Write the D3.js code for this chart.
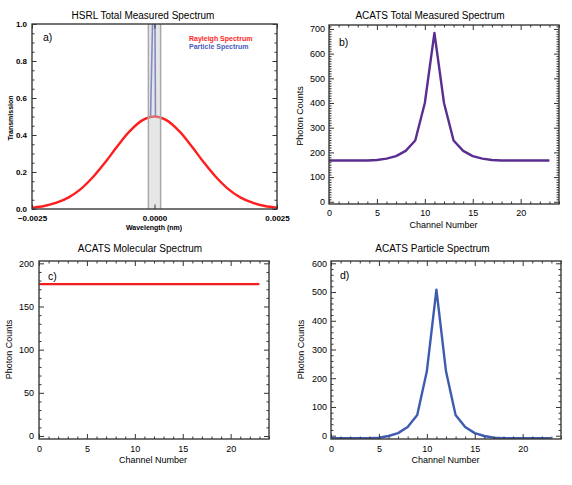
<!DOCTYPE html>
<html><head><meta charset="utf-8">
<script src="https://cdn.jsdelivr.net/npm/d3@7"></script>
<style>
body{margin:0;background:#fff}
svg{display:block}
text{font-family:"Liberation Sans",Arial,Helvetica,sans-serif;fill:#000}
</style>
</head><body>
<svg id="chart" width="572" height="485"></svg>
<script>
// ---------- DATA ----------
// Panel a: HSRL total measured spectrum
const wavelength = [-0.0025,-0.00225,-0.002,-0.00175,-0.0015,-0.00125,-0.001,-0.00075,-0.0005,-0.00025,0,
                    0.00025,0.0005,0.00075,0.001,0.00125,0.0015,0.00175,0.002,0.00225,0.0025];
const rayleighSpectrum = [0.007,0.016,0.034,0.063,0.109,0.174,0.254,0.342,0.422,0.479,0.5,
                          0.479,0.422,0.342,0.254,0.174,0.109,0.063,0.034,0.016,0.007];
const particleWavelength = [-0.00008,0,0.00002];
const particleSpectrum = [0.5,1.5,0.5];
const filterBand = [-0.000125,0.000125];
const aXTicks = [-0.0025,0,0.0025];
const aXTickLabels = ["\u22120.0025","0.0000","0.0025"];
const aYTicks = [0,0.2,0.4,0.6,0.8,1.0];
const aYTickLabels = ["0.0","0.2","0.4","0.6","0.8","1.0"];
const legendLabels = ["Rayleigh Spectrum","Particle Spectrum"];

// Panels b, c, d: ACATS spectra
const channels = [0,1,2,3,4,5,6,7,8,9,10,11,12,13,14,15,16,17,18,19,20,21,22,23];
const totalCounts = [167,167,167,167,167,169,175,185,206,248,400,684,400,248,206,185,175,169,167,167,167,167,167,167];
const molecularCounts = [176,176,176,176,176,176,176,176,176,176,176,176,176,176,176,176,176,176,176,176,176,176,176,176];
const particleCounts = [-9,-9,-9,-9,-9,-7,-1,9,30,72,224,508,224,72,30,9,-1,-7,-9,-9,-9,-9,-9,-9];
const channelTicks = [0,5,10,15,20];
const bYTicks = [0,100,200,300,400,500,600,700];
const cYTicks = [0,50,100,150,200];
const dYTicks = [0,100,200,300,400,500,600];

// ---------- DRAWING ----------
const svg = d3.select("#chart");
let clipCount = 0;

function panel(o){
  const g = svg.append("g");
  const x = d3.scaleLinear().domain(o.xDomain).range([o.left,o.right]);
  const y = d3.scaleLinear().domain(o.yDomain).range([o.bottom,o.top]);
  const id = "clip"+(clipCount++);
  svg.append("clipPath").attr("id",id).append("rect")
    .attr("x",o.left).attr("y",o.top).attr("width",o.right-o.left).attr("height",o.bottom-o.top);
  const plot = g.append("g").attr("clip-path",`url(#${id})`);
  const axes = g.append("g");
  const tf = o.tickFont, fw = o.tickBold ? "bold" : "normal";
  const strip = s => s.select(".domain").remove();
  const styleTicks = s => { s.selectAll("line").attr("stroke","#333").attr("stroke-width",1);
    s.selectAll("text").attr("font-size",tf).attr("font-weight",fw).attr("font-family","Liberation Sans, Arial, sans-serif").attr("fill","#000"); };
  // bottom
  axes.append("g").attr("transform",`translate(0,${o.bottom})`)
    .call(d3.axisBottom(x).tickValues(o.xTicks).tickSize(-o.major).tickPadding(o.xPad).tickFormat((d,i)=>o.xLabels[i]))
    .call(strip).call(styleTicks);
  axes.append("g").attr("transform",`translate(0,${o.bottom})`)
    .call(d3.axisBottom(x).tickValues(o.xMinor).tickSize(-o.minor).tickFormat(""))
    .call(strip).call(styleTicks);
  // top
  axes.append("g").attr("transform",`translate(0,${o.top})`)
    .call(d3.axisTop(x).tickValues(o.xTicks).tickSize(-o.major).tickFormat(""))
    .call(strip).call(styleTicks);
  axes.append("g").attr("transform",`translate(0,${o.top})`)
    .call(d3.axisTop(x).tickValues(o.xMinor).tickSize(-o.minor).tickFormat(""))
    .call(strip).call(styleTicks);
  // left
  axes.append("g").attr("transform",`translate(${o.left},0)`)
    .call(d3.axisLeft(y).tickValues(o.yTicks).tickSize(-o.major).tickPadding(o.yPad).tickFormat((d,i)=>o.yLabels[i]))
    .call(strip).call(styleTicks);
  axes.append("g").attr("transform",`translate(${o.left},0)`)
    .call(d3.axisLeft(y).tickValues(o.yMinor).tickSize(-o.minor).tickFormat(""))
    .call(strip).call(styleTicks);
  // right
  axes.append("g").attr("transform",`translate(${o.right},0)`)
    .call(d3.axisRight(y).tickValues(o.yTicks).tickSize(-o.major).tickFormat(""))
    .call(strip).call(styleTicks);
  axes.append("g").attr("transform",`translate(${o.right},0)`)
    .call(d3.axisRight(y).tickValues(o.yMinor).tickSize(-o.minor).tickFormat(""))
    .call(strip).call(styleTicks);
  // frame
  g.append("rect").attr("x",o.left).attr("y",o.top).attr("width",o.right-o.left).attr("height",o.bottom-o.top)
    .attr("fill","none").attr("stroke","#3a3a3a").attr("stroke-width",1.4);
  // title
  g.append("text").attr("x",o.titleX).attr("y",o.titleY).attr("text-anchor","middle").attr("dy","0.35em")
    .attr("font-size",10).text(o.title);
  // panel label
  g.append("text").attr("x",o.labelX).attr("y",o.labelY).attr("dy","0.35em").attr("font-size",10.5).text(o.label);
  // axis titles
  const af = o.axisBold ? "bold" : "normal";
  g.append("text").attr("x",o.xTitleX).attr("y",o.xTitleY).attr("dy","0.35em").attr("text-anchor","middle")
    .attr("font-size",o.axisFont).attr("font-weight",af).text(o.xTitle);
  g.append("text").attr("transform",`translate(${o.yTitleX},${o.yTitleY}) rotate(-90)`).attr("dy","0.35em")
    .attr("text-anchor","middle").attr("font-size",o.axisFont).attr("font-weight",af).text(o.yTitle);
  return {x,y,plot,g};
}

const range = (a,b,s,skip) => d3.range(a,b+s/2,s).filter(v => !skip.some(t=>Math.abs(t-v)<1e-9));

// ---- Panel a ----
const pa = panel({left:32,right:277,top:24,bottom:209,
  xDomain:[-0.0025,0.0025], yDomain:[0,1],
  xTicks:aXTicks, xLabels:aXTickLabels, xMinor:[], xPad:6,
  yTicks:aYTicks, yLabels:aYTickLabels, yMinor:range(0,1,0.05,aYTicks), yPad:5,
  major:4.5, minor:2.5, tickFont:8, tickBold:true,
  title:"HSRL Total Measured Spectrum", titleX:143, titleY:15,
  label:"a)", labelX:43, labelY:37,
  xTitle:"Wavelength (nm)", xTitleX:154, xTitleY:227.5,
  yTitle:"Transmission", yTitleX:11, yTitleY:118, axisFont:7, axisBold:true});
const lineA = d3.line().curve(d3.curveCatmullRom).x((d,i)=>pa.x(wavelength[i])).y(d=>pa.y(d));
pa.plot.append("path").datum(rayleighSpectrum).attr("d",lineA).attr("fill","none")
  .attr("stroke","#ff1e1e").attr("stroke-width",2.4);
const lineP = d3.line().x((d,i)=>pa.x(particleWavelength[i])).y(d=>pa.y(d));
pa.plot.append("path").datum(particleSpectrum).attr("d",lineP).attr("fill","none")
  .attr("stroke","#4a5cc0").attr("stroke-width",1.6);
// filter band (overlay)
pa.plot.append("rect").attr("x",pa.x(filterBand[0])).attr("y",pa.y(1)).attr("width",pa.x(filterBand[1])-pa.x(filterBand[0]))
  .attr("height",pa.y(0)-pa.y(1)).attr("fill","#c8c8c8").attr("fill-opacity",0.45);
pa.plot.selectAll("line.band").data(filterBand).enter().append("line")
  .attr("x1",d=>pa.x(d)).attr("x2",d=>pa.x(d)).attr("y1",pa.y(1)).attr("y2",pa.y(0))
  .attr("stroke","#a8a8a8").attr("stroke-width",1.5);
// legend
pa.g.selectAll("text.leg").data(legendLabels).enter().append("text")
  .attr("x",189).attr("y",(d,i)=>39+i*7.5).attr("dy","0.35em").attr("font-size",7).attr("font-weight","bold")
  .attr("fill",(d,i)=>i===0?"#ff1e1e":"#4a5cc0").style("fill",(d,i)=>i===0?"#ff1e1e":"#4a5cc0").text(d=>d);

// ---- Panel b ----
const pb = panel({left:329,right:559,top:25,bottom:204,
  xDomain:[0,24], yDomain:[-9,716],
  xTicks:channelTicks, xLabels:channelTicks.map(String), xMinor:range(0,24,1,channelTicks), xPad:6,
  yTicks:bYTicks, yLabels:bYTicks.map(String), yMinor:range(0,710,10,bYTicks), yPad:4,
  major:5, minor:2.5, tickFont:9, tickBold:false,
  title:"ACATS Total Measured Spectrum", titleX:430, titleY:15,
  label:"b)", labelX:339, labelY:42.5,
  xTitle:"Channel Number", xTitleX:443.5, xTitleY:225,
  yTitle:"Photon Counts", yTitleX:300, yTitleY:116, axisFont:9, axisBold:false});
pb.plot.append("path").datum(totalCounts)
  .attr("d",d3.line().x((d,i)=>pb.x(channels[i])).y(d=>pb.y(d)))
  .attr("fill","none").attr("stroke","#5a2d91").attr("stroke-width",2.4).attr("stroke-linejoin","round");

// ---- Panel c ----
const pc = panel({left:39,right:269,top:261,bottom:439,
  xDomain:[0,24], yDomain:[-3.5,202.7],
  xTicks:channelTicks, xLabels:channelTicks.map(String), xMinor:range(0,24,1,channelTicks), xPad:6.5,
  yTicks:cYTicks, yLabels:cYTicks.map(String), yMinor:range(0,200,10,cYTicks), yPad:5,
  major:5, minor:2.5, tickFont:9, tickBold:false,
  title:"ACATS Molecular Spectrum", titleX:140, titleY:248.5,
  label:"c)", labelX:48, labelY:276,
  xTitle:"Channel Number", xTitleX:153, xTitleY:459.5,
  yTitle:"Photon Counts", yTitleX:8.5, yTitleY:349.5, axisFont:9, axisBold:false});
pc.plot.append("path").datum(molecularCounts)
  .attr("d",d3.line().x((d,i)=>pc.x(channels[i])).y(d=>pc.y(d)))
  .attr("fill","none").attr("stroke","#f01e1e").attr("stroke-width",2.2);

// ---- Panel d ----
const pd = panel({left:331,right:561,top:261,bottom:439,
  xDomain:[0,24], yDomain:[-11.5,608],
  xTicks:channelTicks, xLabels:channelTicks.map(String), xMinor:range(0,24,1,channelTicks), xPad:6.5,
  yTicks:dYTicks, yLabels:dYTicks.map(String), yMinor:range(0,600,20,dYTicks), yPad:4,
  major:5, minor:2.5, tickFont:9, tickBold:false,
  title:"ACATS Particle Spectrum", titleX:432.5, titleY:248.5,
  label:"d)", labelX:340, labelY:275,
  xTitle:"Channel Number", xTitleX:445.5, xTitleY:459.5,
  yTitle:"Photon Counts", yTitleX:301, yTitleY:349.5, axisFont:9, axisBold:false});
pd.plot.append("path").datum(particleCounts)
  .attr("d",d3.line().x((d,i)=>pd.x(channels[i])).y(d=>pd.y(d)))
  .attr("fill","none").attr("stroke","#3d5cb0").attr("stroke-width",2.4).attr("stroke-linejoin","round");
</script>
</body></html>
